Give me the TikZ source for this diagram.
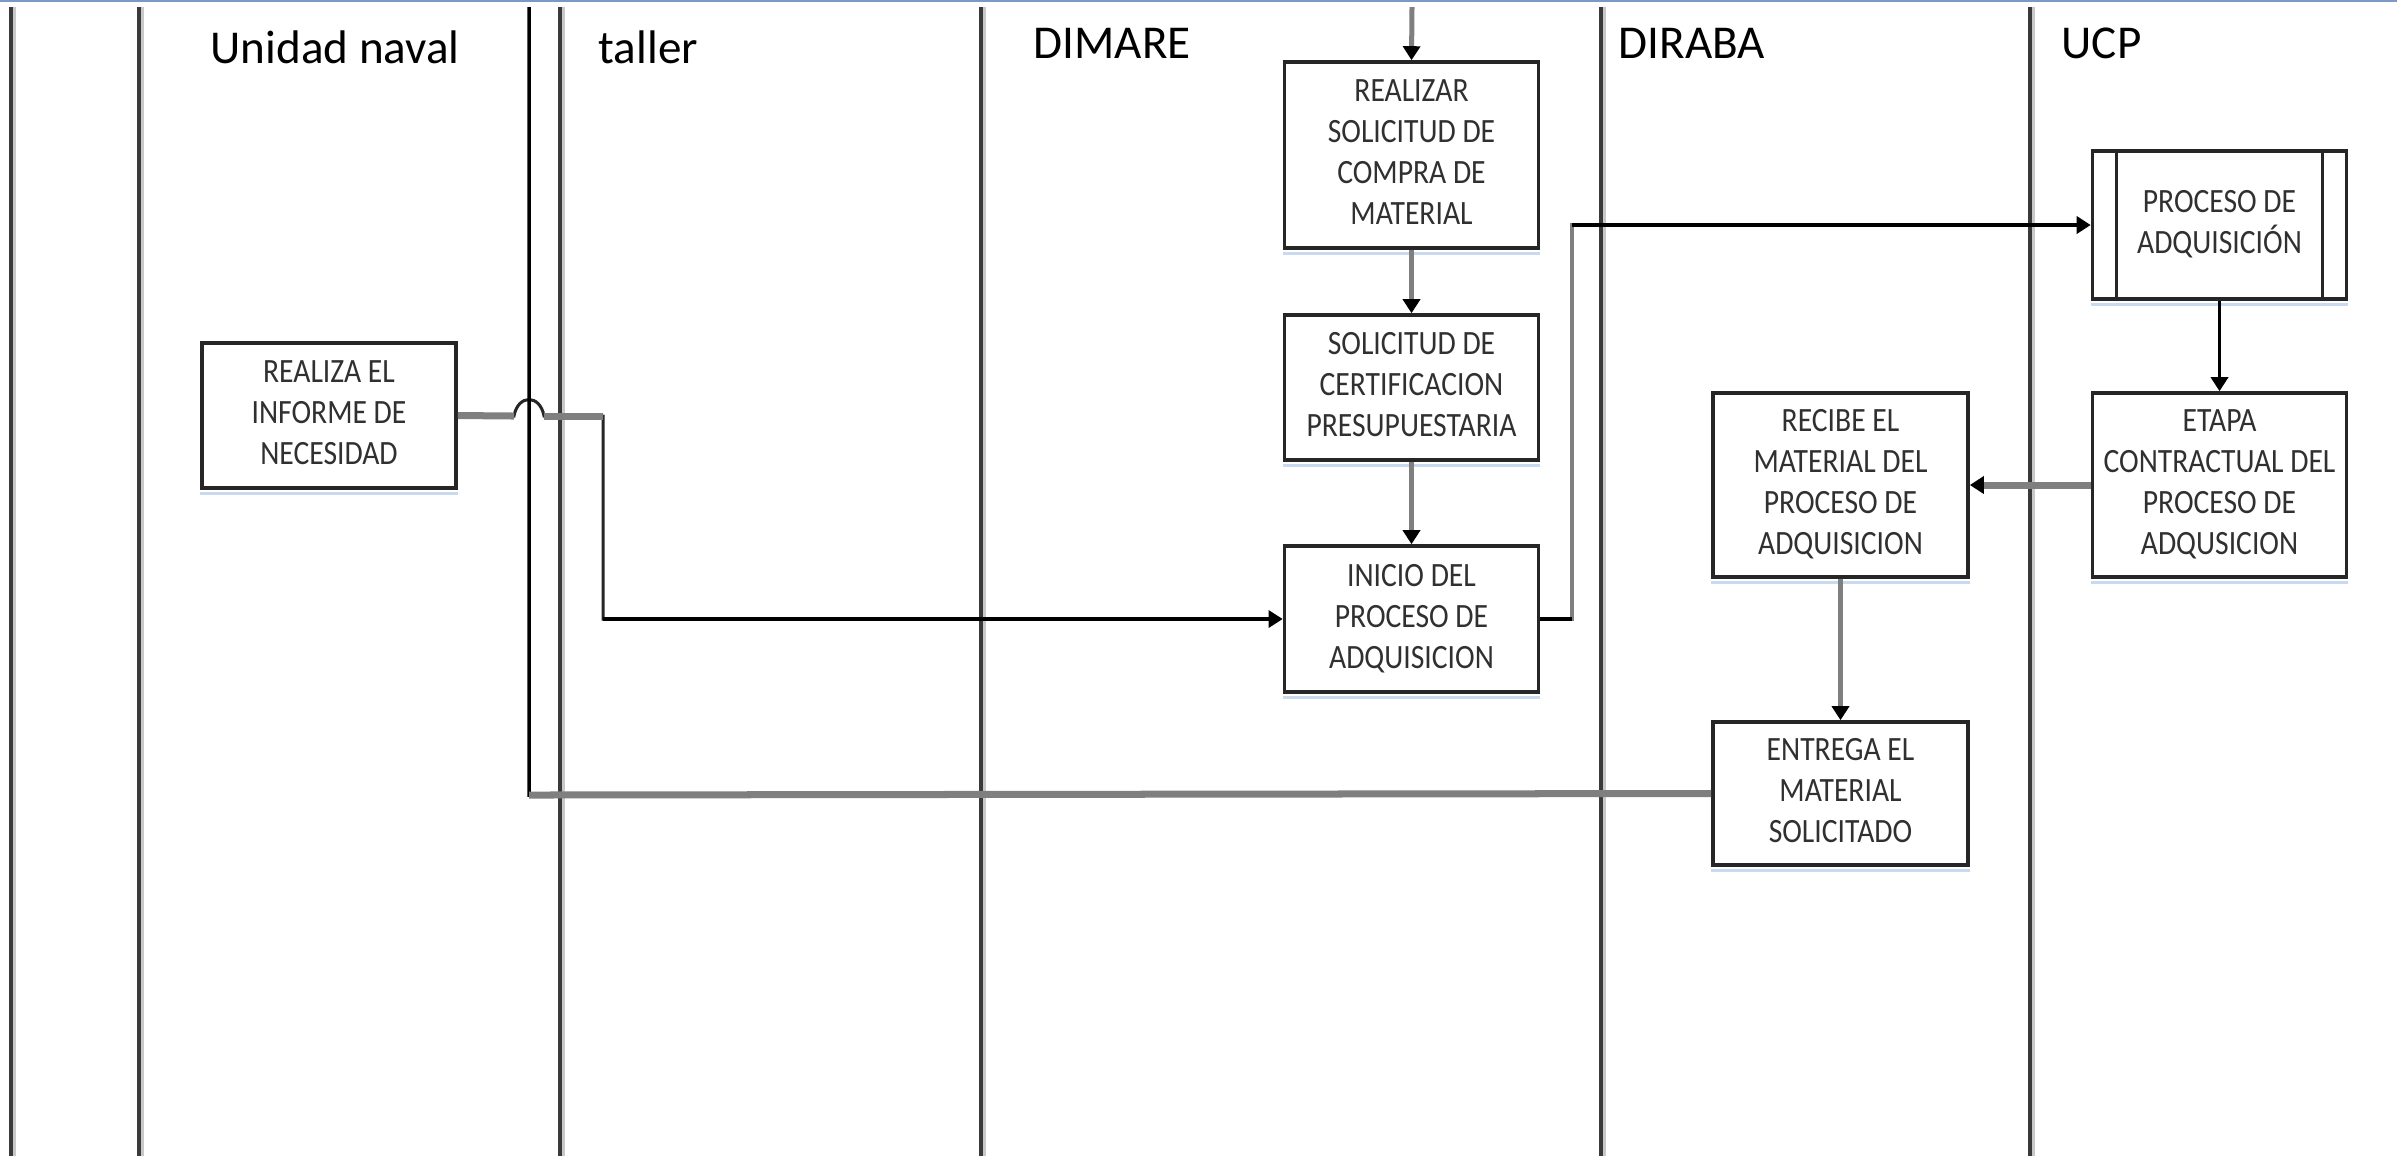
\documentclass[tikz,border=0pt]{standalone}
\usepackage{fontspec}
\setmainfont{Carlito}
\usetikzlibrary{arrows.meta}
\definecolor{lanec}{HTML}{3A3A3A}
\definecolor{lanesh}{HTML}{C8C8C8}
\definecolor{boxc}{HTML}{262626}
\definecolor{shad}{HTML}{C9DAF0}
\definecolor{greyc}{HTML}{7F7F7F}
\definecolor{txtc}{HTML}{303030}
\definecolor{topc}{HTML}{7C98C4}
\newcommand{\bxt}[1]{\scalebox{0.87}[1]{\fontsize{9.68}{11.67}\selectfont\begin{tabular}{@{}c@{}}#1\end{tabular}}}
\begin{document}
\begin{tikzpicture}[x=0.01cm,y=-0.01cm,
  lane/.style={draw=lanec, line width=0.042cm},
  laneshadow/.style={draw=lanesh, line width=0.025cm},
  procbox/.style={draw=boxc, line width=0.035cm, fill=white, minimum width=2.54cm, inner sep=0pt, text=txtc},
  title/.style={anchor=base west, inner sep=0pt, font=\fontsize{13.4}{16}\selectfont},
  tip/.style={-{Triangle[width=0.17cm,length=0.14cm,color=black]}},
  greyline/.style={draw=greyc, line width=0.05cm},
  thickgrey/.style={draw=greyc, line width=0.07cm},
  blackline/.style={draw=black, line width=0.035cm},
  boxshadow/.style={draw=shad, line width=0.03cm}
]
\useasboundingbox (0,0) rectangle (2397,1156);
\fill[white] (0,0) rectangle (2397,1156);
\draw[draw=topc, line width=0.015cm] (0,1) -- (2397,1);

% lanes
\foreach \lx in {11,139,560,981,1601,2030}{
  \draw[laneshadow] (\lx+3.5,7) -- (\lx+3.5,1156);
  \draw[lane] (\lx,7) -- (\lx,1156);
}

% titles
\node[title] (tUnidad) at (210,63) {Unidad naval};
\node[title] (tTaller) at (598,63) {taller};
\node[title] (tDimare) at (1033,58) {DIMARE};
\node[title] (tDiraba) at (1618,58) {DIRABA};
\node[title] (tUcp) at (2061,58) {UCP};

% boxes
\node[procbox, minimum height=1.45cm] (inf) at (329,415.5) {\bxt{REALIZA EL\\INFORME DE\\NECESIDAD}};
\node[procbox, minimum height=1.86cm] (sol) at (1411.5,155) {\bxt{REALIZAR\\SOLICITUD DE\\COMPRA DE\\MATERIAL}};
\node[procbox, minimum height=1.45cm] (cert) at (1411.5,387.5) {\bxt{SOLICITUD DE\\CERTIFICACION\\PRESUPUESTARIA}};
\node[procbox, minimum height=1.46cm] (ini) at (1411.5,619) {\bxt{INICIO DEL\\PROCESO DE\\ADQUISICION}};
\node[procbox, minimum height=1.48cm] (proc) at (2219.5,225) {\bxt{PROCESO DE\\ADQUISICIÓN}};
\node[procbox, minimum height=1.84cm] (eta) at (2219.5,485) {\bxt{ETAPA\\CONTRACTUAL DEL\\PROCESO DE\\ADQUSICION}};
\node[procbox, minimum height=1.84cm, minimum width=2.55cm] (rec) at (1840.5,485) {\bxt{RECIBE EL\\MATERIAL DEL\\PROCESO DE\\ADQUISICION}};
\node[procbox, minimum height=1.43cm, minimum width=2.55cm] (ent) at (1840.5,793.5) {\bxt{ENTREGA EL\\MATERIAL\\SOLICITADO}};

% predefined process side bars
\draw[draw=boxc, line width=0.035cm] ([xshift=0.26cm]proc.north west) -- ([xshift=0.26cm]proc.south west);
\draw[draw=boxc, line width=0.035cm] ([xshift=-0.26cm]proc.north east) -- ([xshift=-0.26cm]proc.south east);

% box shadows
\foreach \n in {inf,sol,cert,ini,proc,eta,rec,ent}{
  \draw[boxshadow] ([yshift=-0.035cm]\n.south west) -- ([yshift=-0.035cm]\n.south east);
}

% coordinates for connectors
\coordinate (topD) at (1412,7);
\coordinate (hopA) at (514,416);
\coordinate (hopB) at (544,416);
\coordinate (bendA) at (603,416);
\coordinate (bendB) at (603,619);
\coordinate (upA) at (1572,619);
\coordinate (upB) at (1572,225);
\coordinate (retA) at (529,795);
\coordinate (retB) at (529,7);

% connectors
\draw[greyline, tip] (topD) -- (sol.north);
\draw[greyline, tip] (sol.south) -- (cert.north);
\draw[greyline, tip] (cert.south) -- (ini.north);

\draw[blackline, draw=boxc, line width=0.03cm, tip] (inf.east) -- (hopA) .. controls (518,394) and (540,394) .. (hopB) -- (bendA) -- (bendB) -- (ini.west);
\draw[thickgrey] (inf.east) -- (hopA);
\draw[thickgrey] (hopB) -- (bendA);
\draw[blackline, line width=0.042cm] (bendB) -- ([xshift=-0.14cm]ini.west);

\draw[greyline, line width=0.035cm, tip] (ini.east) -- (upA) -- (upB) -- (proc.west);
\draw[blackline, line width=0.04cm] (ini.east) -- (upA);
\draw[blackline, line width=0.04cm] (upB) -- ([xshift=-0.14cm]proc.west);

\draw[blackline, tip] (proc.south) -- (eta.north);
\draw[thickgrey, tip] (eta.west) -- (rec.east);
\draw[greyline, tip] (rec.south) -- (ent.north);

\draw[blackline] (ent.west) -- (retA) -- (retB);
\draw[thickgrey] (ent.west) -- (retA);
\end{tikzpicture}
\end{document}
